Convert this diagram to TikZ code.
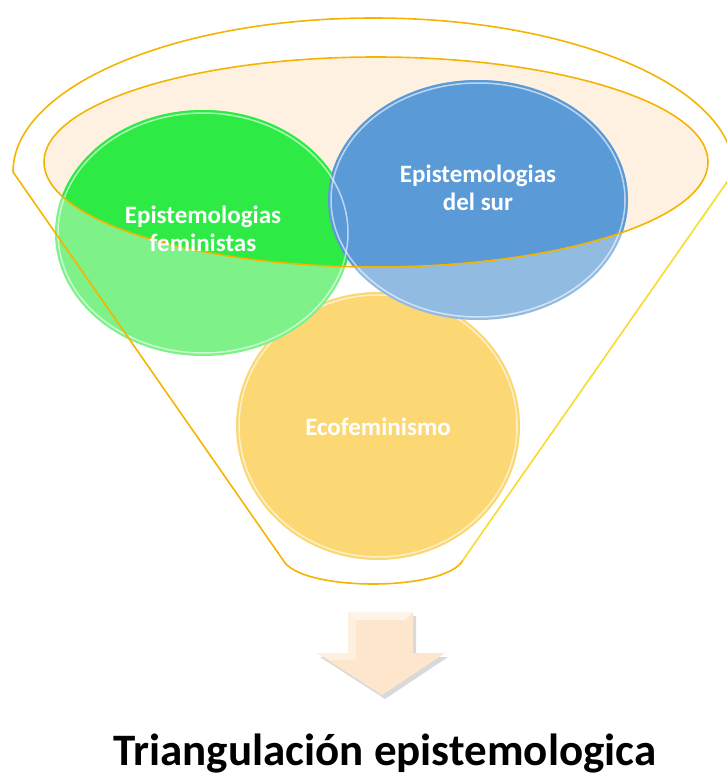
\documentclass[tikz,border=0pt]{standalone}
\usepackage{fontspec}
\setmainfont{Carlito}
\usetikzlibrary{positioning}
\definecolor{funnelgold}{HTML}{F4B400}
\definecolor{funnelyel}{HTML}{F8DC2A}
\definecolor{peach}{HTML}{FEF1E2}
\definecolor{greenlt}{HTML}{7EF289}
\definecolor{greendk}{HTML}{2DEB44}
\definecolor{bluelt}{HTML}{92BBE1}
\definecolor{bluedk}{HTML}{5A9AD6}
\definecolor{yellowc}{HTML}{FBD874}
\definecolor{arrowfill}{HTML}{FDE6CB}
\tikzset{
	label/.style={text=white,font=\bfseries\fontsize{25}{28}\selectfont,align=center},
	gloss/.style={draw=white,draw opacity=0.6,line width=1.5pt},
	rim/.style={line width=1.6pt}
}
\begin{document}
\begin{tikzpicture}[x=1pt,y=-1pt]
		\useasboundingbox (0,0) rectangle (727,776);
		% inner ellipse and circles
		\fill[peach] (376,162) ellipse[x radius=332, y radius=105];
		\fill[yellowc] (378,426) ellipse[x radius=142, y radius=134];
		\draw[gloss] (378,426) ellipse[x radius=139, y radius=131];
		\fill[greenlt] (203,233) ellipse[x radius=148, y radius=123];
		\fill[bluelt] (478,200) ellipse[x radius=150, y radius=120];
		\begin{scope}
			\clip (376,162) ellipse[x radius=332, y radius=105];
			\fill[greendk] (203,233) ellipse[x radius=148, y radius=123];
			\fill[bluedk] (478,200) ellipse[x radius=150, y radius=120];
		\end{scope}
		\draw[gloss] (203,233) ellipse[x radius=145, y radius=120];
		\draw[gloss] (478,200) ellipse[x radius=147, y radius=117];
		\draw[funnelgold,rim] (376,162) ellipse[x radius=332, y radius=105];
		% funnel
		\draw[funnelgold,rim] (13,172) arc[start angle=180, end angle=360, x radius=360.5, y radius=154];
		\draw[funnelgold,rim] (13,172) -- (283,560) .. controls (300,592) and (446,592) .. (463,560);
		\draw[funnelyel,rim] (463,560) -- (734,172);
		% texts
		\path
		(203,229) node[label](fem) {Epistemologias\\feministas}
		(478,188) node[label](sur) {Epistemologias\\del sur}
		(378,427) node[label](eco) {Ecofeminismo};
		% arrow
		\fill[black,opacity=0.15] (351,616) -- (416,616) -- (416,657) -- (448,657) -- (385,699) -- (320,657) -- (351,657) -- cycle;
		\fill[arrowfill] (348,612) -- (413,612) -- (413,653) -- (445,653) -- (382,695) -- (317,653) -- (348,653) -- cycle;
		\fill[white,opacity=0.6] (348,612) -- (413,612) -- (405,620) -- (356,620) -- cycle;
		\fill[white,opacity=0.4] (317,653) -- (348,653) -- (348,612) -- (356,620) -- (356,660) -- (330,660) -- cycle;
		\path (110,765) node[anchor=base west,font=\bfseries\fontsize{45}{50}\selectfont](title) {Triangulación epistemologica};
	\end{tikzpicture}
\end{document}
